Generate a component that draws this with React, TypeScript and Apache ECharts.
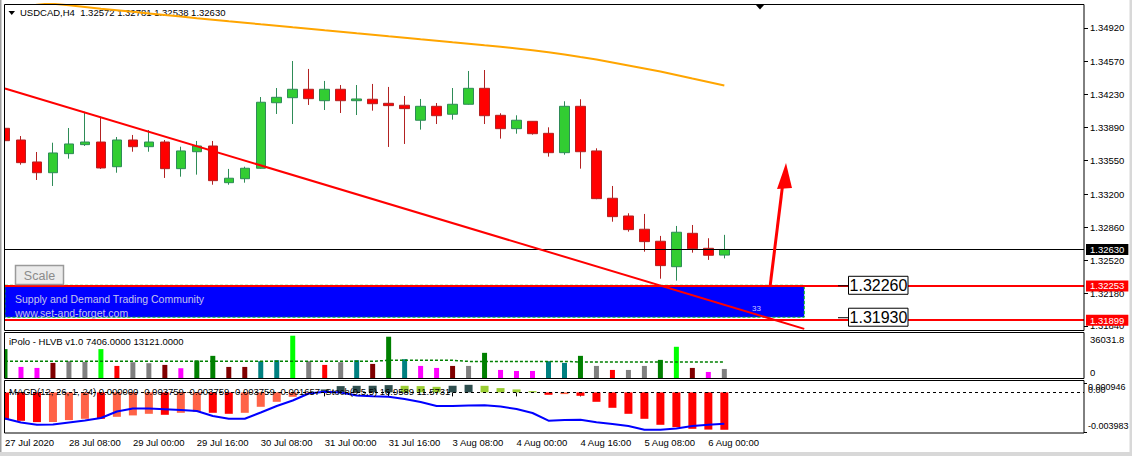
import React, { useEffect, useRef } from "react";
import * as echarts from "echarts";

const FONT = '"Liberation Sans", Arial, sans-serif';

// ---------- data ----------
const barLabels = [
  "27 Jul 2020", "27 Jul 20:00", "28 Jul 00:00", "28 Jul 04:00", "28 Jul 08:00", "28 Jul 12:00",
  "28 Jul 16:00", "28 Jul 20:00", "29 Jul 00:00", "29 Jul 04:00", "29 Jul 08:00", "29 Jul 12:00",
  "29 Jul 16:00", "29 Jul 20:00", "30 Jul 00:00", "30 Jul 04:00", "30 Jul 08:00", "30 Jul 12:00",
  "30 Jul 16:00", "30 Jul 20:00", "31 Jul 00:00", "31 Jul 04:00", "31 Jul 08:00", "31 Jul 12:00",
  "31 Jul 16:00", "31 Jul 20:00", "3 Aug 00:00", "3 Aug 04:00", "3 Aug 08:00", "3 Aug 12:00",
  "3 Aug 16:00", "3 Aug 20:00", "4 Aug 00:00", "4 Aug 04:00", "4 Aug 08:00", "4 Aug 12:00",
  "4 Aug 16:00", "4 Aug 20:00", "5 Aug 00:00", "5 Aug 04:00", "5 Aug 08:00", "5 Aug 12:00",
  "5 Aug 16:00", "5 Aug 20:00", "6 Aug 00:00", "6 Aug 04:00",
];
const EMPTY_SLOTS = 22; // chart shift area on the right

const openP = [
  1.33882, 1.33761, 1.33534, 1.33423, 1.3362, 1.33713, 1.3374, 1.33485, 1.33761, 1.33692,
  1.3374, 1.33465, 1.3364, 1.33699, 1.3332, 1.33361, 1.33469, 1.34146, 1.34198, 1.34285,
  1.34167, 1.34285, 1.34167, 1.34182, 1.3414, 1.3412, 1.33965, 1.34109, 1.34027, 1.3413,
  1.34295, 1.34016, 1.33878, 1.33954, 1.3383, 1.3363, 1.34109, 1.33648, 1.33159, 1.32976,
  1.32839, 1.32715, 1.32452, 1.32797, 1.32642, 1.32572,
];
const closeP = [
  1.33754, 1.33527, 1.33423, 1.33627, 1.3372, 1.3374, 1.33472, 1.33761, 1.33692, 1.3374,
  1.33465, 1.33648, 1.33699, 1.33341, 1.33366, 1.33469, 1.34151, 1.34202, 1.34285, 1.34188,
  1.34285, 1.34167, 1.34185, 1.34136, 1.34116, 1.34085, 1.34109, 1.34012, 1.3413, 1.34295,
  1.34012, 1.33878, 1.33965, 1.33826, 1.3363, 1.34109, 1.3364, 1.33155, 1.32969, 1.32835,
  1.32711, 1.32463, 1.32808, 1.32638, 1.3257, 1.3263,
];
const lowP = [
  1.3364, 1.33506, 1.33348, 1.33286, 1.33568, 1.33699, 1.33462, 1.33423, 1.3364, 1.3364,
  1.33369, 1.33382, 1.33403, 1.33299, 1.33299, 1.3332, 1.33465, 1.3403, 1.33926, 1.34123,
  1.34071, 1.3404, 1.34019, 1.34064, 1.33689, 1.3372, 1.33868, 1.33926, 1.33971, 1.34126,
  1.33926, 1.33775, 1.33826, 1.33816, 1.33589, 1.33609, 1.33465, 1.33149, 1.32917, 1.32814,
  1.32607, 1.32328, 1.32308, 1.32597, 1.32522, 1.32538,
];
const highP = [
  1.34019, 1.33802, 1.33637, 1.33733, 1.33885, 1.34053, 1.34002, 1.33792, 1.33813, 1.33864,
  1.33761, 1.33692, 1.33751, 1.33751, 1.33462, 1.33485, 1.34205, 1.34298, 1.34577, 1.34495,
  1.34371, 1.34329, 1.34329, 1.3434, 1.34309, 1.34216, 1.34185, 1.34143, 1.34298, 1.34474,
  1.34484, 1.34037, 1.34016, 1.33957, 1.33892, 1.34161, 1.34182, 1.33675, 1.33286, 1.33004,
  1.32997, 1.3277, 1.32873, 1.32883, 1.32746, 1.32781,
];
const maValues = [
  1.35218, 1.35201, 1.35185, 1.35168, 1.35152, 1.35135, 1.35118, 1.35102, 1.35085, 1.35069,
  1.35052, 1.35036, 1.35019, 1.35003, 1.34987, 1.34972, 1.34956, 1.34941, 1.34925, 1.3491,
  1.34894, 1.34879, 1.34863, 1.34848, 1.34832, 1.34817, 1.34801, 1.34786, 1.3477, 1.34755,
  1.34739, 1.34724, 1.34706, 1.34688, 1.34667, 1.34644, 1.34618, 1.34593, 1.34562, 1.34531,
  1.345, 1.34469, 1.34433, 1.34396, 1.3436, 1.34324,
];
const priceTicks = [1.3492, 1.3457, 1.3423, 1.3389, 1.3355, 1.332, 1.3286, 1.3252, 1.3218, 1.3184];
const PRICE_MIN = 1.31798;
const PRICE_MAX = 1.35166;
const bidPrice = 1.3263;
const zoneLines = [1.32253, 1.31899];
const zoneTop = 1.3226;
const zoneBottom = 1.3193;
const zoneEndBar = 50;
const trendLine = [
  { bar: 0, price: 1.34293 },
  { bar: 50, price: 1.3181 },
];

const volume = [
  23660, 9070, 8245, 12370, 13770, 13190, 23660, 9890, 12950, 12120,
  10720, 8000, 14350, 18140, 9070, 9070, 13770, 14590, 34630, 13770,
  10720, 12950, 14590, 11540, 33800, 15420, 9890, 8245, 9890, 9890,
  20610, 6600, 5770, 5770, 13770, 12370, 18140, 9890, 6600, 6600,
  9890, 14840, 25560, 8245, 4950, 7406,
];
const volumeClass = [
  "G", "M", "M", "B", "N", "N", "L", "R", "N", "N",
  "B", "M", "G", "G", "B", "B", "T", "T", "L", "N",
  "R", "N", "T", "B", "G", "T", "M", "M", "B", "N",
  "G", "M", "M", "M", "T", "T", "G", "N", "R", "N",
  "N", "G", "L", "B", "M", "N",
];
const volumeAvg = [
  13700, 13700, 13700, 13700, 13700, 13700, 13700, 13700, 13700, 13700,
  13700, 13700, 13700, 13700, 13700, 13700, 13700, 13700, 13700, 13700,
  13700, 13700, 13700, 13700, 14500, 14500, 14500, 14500, 14500, 13600,
  13600, 13600, 13600, 13600, 13600, 13600, 13121, 13121, 13121, 13121,
  13121, 13121, 13121, 13121, 13121, 13121,
];
const VOL_MAX = 36031.8;

const macdHist = [
  -0.002756, -0.002857, -0.002988, -0.00298, -0.002787, -0.002656, -0.00266, -0.002455, -0.002314, -0.002153,
  -0.002253, -0.002052, -0.001952, -0.002052, -0.002153, -0.002052, -0.001449, -0.000946, -0.000443, -0.000141,
  0.0003, 0.000634, 0.000664, 0.00067, 0.000734, 0.000664, 0.000634, 0.000563, 0.00067, 0.000765,
  0.000664, 0.000433, 0.000302, 0.000131, -0.000241, -0.000171, -0.000342, -0.000946, -0.001549, -0.002153,
  -0.002656, -0.003259, -0.003491, -0.003662, -0.00374, -0.003759,
];
const stochMain = [
  27.55, 19.39, 14.9, 15.31, 19.39, 23.47, 28.57, 41.84, 47.96, 47.96,
  46.53, 44.9, 42.86, 32.65, 27.14, 27.14, 39.8, 53.06, 64.29, 78.57,
  82.04, 80.61, 74.49, 72.86, 72.04, 67.35, 61.22, 53.06, 53.06, 54.08,
  54.49, 52.04, 46.94, 38.78, 23.06, 24.49, 24.9, 19.8, 16.33, 12.24,
  4.69, 4.69, 7.14, 12.24, 14.9, 16.96,
];
const MACD_MIN = -0.003983;
const MACD_MAX = 0.000946;

const titleText = "USDCAD,H4  1.32572 1.32781 1.32538 1.32630";
const volTitle = "iPolo - HLVB v1.0 7406.0000 13121.0000";
const macdTitle =
  "MACD(12, 26, 1, 24) 0.000000 -0.003759 -0.003759 -0.003759 -0.001657  Stoch(9,5,5) 16.9589 11.5731";
const zoneText1 = "Supply and Demand Trading Community";
const zoneText2 = "www.set-and-forget.com";
const zoneCount = "33";

// ---------- styles ----------
const VOL_COLORS: Record<string, string> = {
  G: "#008000",
  L: "#00FF00",
  M: "#FF00FF",
  R: "#FF0000",
  B: "#800000",
  N: "#808080",
  T: "#008080",
};
const MACD_COLORS = { posUp: "#2F4F4F", posDown: "#9ACD32", negDown: "#FF0000", negUp: "#FF6347" };

function macdColor(i: number) {
  const v = macdHist[i];
  const p = i > 0 ? macdHist[i - 1] : v;
  if (v >= 0) return v > p ? MACD_COLORS.posUp : MACD_COLORS.posDown;
  return v <= p ? MACD_COLORS.negDown : MACD_COLORS.negUp;
}

function buildOption() {
  const categories = barLabels.concat(Array(EMPTY_SLOTS).fill(""));
  const every4 = (i: number, v: string) => v !== "" && i % 4 === 0;
  const axisText = { color: "#000", fontFamily: FONT, fontSize: 9.5 };
  const gridBase = { left: -3, width: 1087, outerBoundsMode: "none", containLabel: false, show: false };
  const tagLabel = (bg: string) => ({
    show: true,
    position: "end",
    distance: 2,
    formatter: (p: any) => Number(p.value).toFixed(5),
    backgroundColor: bg,
    color: "#fff",
    padding: [1, 4, 0, 4],
    fontFamily: FONT,
    fontSize: 9.5,
  });

  return {
    animation: false,
    backgroundColor: "#fff",
    textStyle: { fontFamily: FONT },
    grid: [
      { ...gridBase, top: 4, height: 326 },
      { ...gridBase, top: 334, height: 44 },
      { ...gridBase, top: 383, height: 49 },
    ],
    xAxis: [0, 1, 2].map((g) => ({
      type: "category",
      gridIndex: g,
      data: categories,
      boundaryGap: true,
      axisLine: { show: false },
      splitLine: { show: false },
      axisTick:
        g === 2
          ? { show: true, alignWithLabel: true, interval: every4, length: 4, lineStyle: { color: "#000" } }
          : { show: false },
      axisLabel: g === 2 ? { ...axisText, show: true, interval: every4, align: "left", margin: 5 } : { show: false },
    })),
    yAxis: [
      {
        type: "value",
        gridIndex: 0,
        position: "right",
        min: PRICE_MIN,
        max: PRICE_MAX,
        axisLine: { show: false },
        splitLine: { show: false },
        axisTick: { show: true, length: 4, customValues: priceTicks, lineStyle: { color: "#000" } },
        axisLabel: { ...axisText, margin: 6, customValues: priceTicks, formatter: (v: number) => v.toFixed(5) },
      },
      {
        type: "value",
        gridIndex: 1,
        position: "right",
        min: 0,
        max: VOL_MAX,
        axisLine: { show: false },
        splitLine: { show: false },
        axisTick: { show: false },
        axisLabel: {
          ...axisText,
          margin: 6,
          showMinLabel: true,
          showMaxLabel: true,
          customValues: [0, VOL_MAX],
          formatter: (v: number) => (v > 0 ? "{t|" + v.toFixed(1) + "}" : "{b|0}"),
          rich: {
            t: { fontFamily: FONT, fontSize: 9.5, color: "#000", padding: [10, 0, 0, 0] },
            b: { fontFamily: FONT, fontSize: 9.5, color: "#000", padding: [0, 0, 12, 0] },
          },
        },
      },
      {
        type: "value",
        gridIndex: 2,
        position: "right",
        min: MACD_MIN,
        max: MACD_MAX,
        axisLine: { show: false },
        splitLine: { show: false },
        axisTick: { show: true, length: 3, customValues: [MACD_MIN, MACD_MAX], lineStyle: { color: "#000" } },
        axisLabel: {
          ...axisText,
          margin: 4,
          showMinLabel: true,
          showMaxLabel: true,
          customValues: [MACD_MIN, MACD_MAX],
          formatter: (v: number) => (v > 0 ? "{t|" + v.toFixed(6) + "}" : "{b|" + v.toFixed(6) + "}"),
          rich: {
            t: { fontFamily: FONT, fontSize: 9, color: "#000", padding: [8, 0, 0, 0] },
            b: { fontFamily: FONT, fontSize: 9, color: "#000", padding: [0, 0, 12, 0] },
          },
        },
      },
      { type: "value", gridIndex: 2, min: 0, max: 100, show: false },
      {
        type: "value",
        gridIndex: 2,
        position: "right",
        min: MACD_MIN,
        max: MACD_MAX,
        axisLine: { show: false },
        splitLine: { show: false },
        axisTick: { show: false },
        axisLabel: {
          ...axisText,
          margin: 4,
          showMinLabel: true,
          showMaxLabel: true,
          customValues: [0],
          formatter: () => "{z|0.00}",
          rich: { z: { fontFamily: FONT, fontSize: 9, color: "#000", padding: [0, 0, 4, 0] } },
        },
      },
    ],
    series: [
      {
        name: "MA",
        type: "line",
        xAxisIndex: 0,
        yAxisIndex: 0,
        data: maValues,
        symbol: "none",
        clip: true,
        z: 2,
        lineStyle: { color: "#FFA500", width: 2 },
        markArea: {
          silent: true,
          itemStyle: { color: "#0000FF", borderColor: "#00D000", borderWidth: 1, borderType: [3, 2] },
          label: { show: false },
          data: [[{ xAxis: 0, yAxis: zoneTop }, { xAxis: zoneEndBar, yAxis: zoneBottom }]],
        },
      },
      {
        name: "USDCAD",
        type: "candlestick",
        xAxisIndex: 0,
        yAxisIndex: 0,
        z: 3,
        barWidth: 10,
        data: openP.map((o, i) => [o, closeP[i], lowP[i], highP[i]]),
        itemStyle: {
          color: "#32CD32",
          color0: "#FF0000",
          borderColor: "#2E8B57",
          borderColor0: "#B22222",
          borderWidth: 1,
        },
        markLine: {
          silent: true,
          precision: 6,
          symbol: ["none", "none"],
          data: [
            { yAxis: bidPrice, lineStyle: { color: "#000", width: 1, type: "solid" }, label: tagLabel("#000") },
            ...zoneLines.map((p) => ({
              yAxis: p,
              lineStyle: { color: "#FF0000", width: 2, type: "solid" },
              label: tagLabel("#FF0000"),
            })),
            [
              {
                coord: [trendLine[0].bar, trendLine[0].price],
                lineStyle: { color: "#FF0000", width: 2, type: "solid" },
                label: { show: false },
              },
              { coord: [trendLine[1].bar, trendLine[1].price] },
            ],
          ],
        },
      },
      {
        name: "Volume",
        type: "bar",
        xAxisIndex: 1,
        yAxisIndex: 1,
        barWidth: 5,
        data: volume.map((v, i) => ({ value: v, itemStyle: { color: VOL_COLORS[volumeClass[i]] } })),
      },
      {
        name: "Volume avg",
        type: "line",
        xAxisIndex: 1,
        yAxisIndex: 1,
        data: volumeAvg,
        symbol: "none",
        lineStyle: { color: "#008000", width: 1.5, type: [3, 2] },
      },
      {
        name: "MACD",
        type: "bar",
        xAxisIndex: 2,
        yAxisIndex: 2,
        barWidth: 8,
        data: macdHist.map((v, i) => ({ value: v, itemStyle: { color: macdColor(i) } })),
        markLine: {
          silent: true,
          precision: 6,
          symbol: ["none", "none"],
          label: { show: false },
          lineStyle: { color: "#000", width: 1, type: [3, 3] },
          data: [{ yAxis: 0 }],
        },
      },
      {
        name: "Stoch",
        type: "line",
        xAxisIndex: 2,
        yAxisIndex: 3,
        data: stochMain,
        symbol: "none",
        z: 3,
        lineStyle: { color: "#0000FF", width: 2 },
      },
    ],
  };
}

function txt(text: string, x: number, y: number, size: number, fill: string, align = "left") {
  return {
    type: "text",
    x,
    y,
    z: 120,
    silent: true,
    style: {
      text,
      fill,
      font: `${size}px ${FONT}`,
      align,
      verticalAlign: "middle",
      textAlign: align,
      textVerticalAlign: "middle",
    },
  };
}

function buildGraphics(yTop: number, yBottom: number) {
  const els: any[] = [];
  // left cover + outer window border
  els.push({ type: "rect", z: 99, silent: true, shape: { x: 0, y: 0, width: 4, height: 456 }, style: { fill: "#fff" } });
  els.push({ type: "rect", z: 99, silent: true, shape: { x: 0, y: 0, width: 1.5, height: 456 }, style: { fill: "#A0A0A0" } });
  els.push({ type: "rect", z: 99, silent: true, shape: { x: 1129.5, y: 0, width: 2.5, height: 456 }, style: { fill: "#D8D8D8" } });
  els.push({ type: "rect", z: 99, silent: true, shape: { x: 0, y: 452, width: 1132, height: 4 }, style: { fill: "#D8D8D8" } });
  // panel frames
  const frame = (y: number, h: number) => ({
    type: "rect",
    z: 110,
    silent: true,
    shape: { x: 4.5, y, width: 1079.5, height: h },
    style: { fill: "none", stroke: "#000", lineWidth: 1 },
  });
  els.push(frame(4.5, 326), frame(332.5, 46), frame(380.5, 52.5));
  // chart shift marker
  els.push({ type: "polygon", z: 110, silent: true, shape: { points: [[755.5, 4.5], [764.5, 4.5], [760, 9.5]] }, style: { fill: "#000" } });
  // title
  els.push({ type: "polygon", z: 1, silent: true, shape: { points: [[8.5, 11], [15, 11], [11.75, 15]] }, style: { fill: "#000" } });
  els.push({ ...txt(titleText, 20, 12.5, 9.5, "#000"), z: 1 });
  els.push(txt(volTitle, 9, 341.5, 9.5, "#000"));
  els.push(txt(macdTitle, 9, 391.5, 9.5, "#000"));
  // Scale button
  els.push({
    type: "rect",
    z: 110,
    silent: true,
    shape: { x: 15.5, y: 265.5, width: 48, height: 19 },
    style: { fill: "#EBEBEB", stroke: "#9A9A9A", lineWidth: 1.5 },
  });
  els.push(txt("Scale", 39.5, 275.5, 12.5, "#8A8A8A", "center"));
  // zone texts
  els.push(txt(zoneText1, 15, 298.5, 10.5, "#C4C4EC"));
  els.push(txt(zoneText2, 15, 313, 10.5, "#C4C4EC"));
  els.push(txt(zoneCount, 756.5, 308, 8, "#C8C8FF", "center"));
  // price label boxes
  const box = (y: number, text: string) => {
    els.push({ type: "line", z: 115, silent: true, shape: { x1: 838, y1: y + 0.5, x2: 848, y2: y + 0.5 }, style: { stroke: "#000", lineWidth: 1 } });
    els.push({
      type: "rect",
      z: 115,
      silent: true,
      shape: { x: 848.5, y: y - 9, width: 59.5, height: 18 },
      style: { fill: "#fff", stroke: "#000", lineWidth: 1 },
    });
    els.push({ ...txt(text, 878.5, y + 0.5, 16, "#000", "center"), z: 116 });
  };
  box(yTop, zoneTop.toFixed(5));
  box(yBottom, zoneBottom.toFixed(5));
  // arrow
  els.push({ type: "line", z: 115, silent: true, shape: { x1: 770, y1: 287, x2: 782.5, y2: 186 }, style: { stroke: "#FF0000", lineWidth: 3 } });
  els.push({ type: "polygon", z: 115, silent: true, shape: { points: [[786, 163], [777, 189], [792, 188]] }, style: { fill: "#FF0000" } });
  return els;
}

export default function App() {
  const ref = useRef<HTMLDivElement>(null);
  useEffect(() => {
    document.body.style.margin = "0";
    const chart = echarts.init(ref.current!, null, { renderer: "svg" });
    chart.setOption(buildOption() as any);
    const yTop = chart.convertToPixel({ yAxisIndex: 0 } as any, zoneTop) as unknown as number;
    const yBottom = chart.convertToPixel({ yAxisIndex: 0 } as any, zoneBottom) as unknown as number;
    chart.setOption({ graphic: { elements: buildGraphics(yTop, yBottom) } } as any);
    return () => chart.dispose();
  }, []);
  return (
    <div
      ref={ref}
      style={{ position: "absolute", left: 0, top: 0, width: 1132, height: 456, background: "#fff" }}
    />
  );
}
